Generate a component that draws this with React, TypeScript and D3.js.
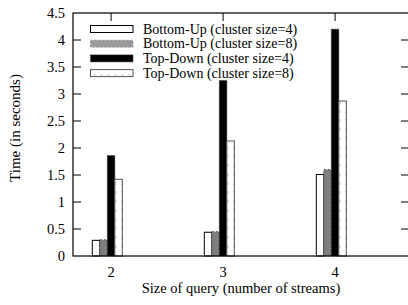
import React, { useEffect, useRef } from 'react';
import * as d3 from 'd3';

const categories = [2, 3, 4];
const seriesNames = [
  'Bottom-Up (cluster size=4)',
  'Bottom-Up (cluster size=8)',
  'Top-Down (cluster size=4)',
  'Top-Down (cluster size=8)',
];
const bottomUp4 = [0.29, 0.44, 1.51];
const bottomUp8 = [0.3, 0.45, 1.6];
const topDown4 = [1.86, 3.25, 4.2];
const topDown8 = [1.42, 2.13, 2.87];
const yTicks = [0, 0.5, 1, 1.5, 2, 2.5, 3, 3.5, 4, 4.5];

const App: React.FC = () => {
  const svgRef = useRef<SVGSVGElement>(null);

  useEffect(() => {
    if (!svgRef.current) return;
    const width = 408;
    const height = 305;
    const left = 73, right = 409, top = 13, bottom = 256;

    const svg = d3.select(svgRef.current);
    svg.selectAll('*').remove();
    svg.attr('width', width).attr('height', height);

    const defs = svg.append('defs');
    const pat = defs.append('pattern')
      .attr('id', 'xpat')
      .attr('patternUnits', 'userSpaceOnUse')
      .attr('width', 7).attr('height', 9);
    pat.append('rect').attr('width', 7).attr('height', 9).attr('fill', '#fff');
    pat.append('path')
      .attr('d', 'M2,2 L5,5 M5,2 L2,5')
      .attr('stroke', '#bbb').attr('stroke-width', 0.7);

    const x = d3.scaleLinear().domain([1.66, 4.66]).range([left, right]);
    const y = d3.scaleLinear().domain([0, 4.5]).range([bottom, top]);
    const bw = x(0.067) - x(0);

    const series = [
      { values: bottomUp4, fill: '#fff', stroke: '#000', dash: null, offset: -2 },
      { values: bottomUp8, fill: '#7f7f7f', stroke: '#555', dash: '2,2', offset: -1 },
      { values: topDown4, fill: '#000', stroke: '#333', dash: '1,1', offset: 0 },
      { values: topDown8, fill: 'url(#xpat)', stroke: '#555', dash: null, offset: 1 },
    ];

    // bars
    series.forEach((s) => {
      svg.append('g')
        .selectAll('rect')
        .data(categories.map((c, i) => ({ c, v: s.values[i] })))
        .enter()
        .append('rect')
        .attr('x', (d) => x(d.c) + (s.offset - 0.5) * bw)
        .attr('y', (d) => y(d.v))
        .attr('width', bw)
        .attr('height', (d) => y(0) - y(d.v))
        .attr('fill', s.fill)
        .attr('stroke', s.stroke)
        .attr('stroke-width', 1)
        .attr('stroke-dasharray', s.dash as any);
    });

    // border
    svg.append('rect')
      .attr('x', left).attr('y', top)
      .attr('width', right - left).attr('height', bottom - top)
      .attr('fill', 'none').attr('stroke', '#000').attr('stroke-width', 1.2);

    // y ticks
    const yt = svg.append('g');
    yTicks.forEach((t) => {
      if (t > 0 && t < 4.5) {
        yt.append('line').attr('x1', left).attr('x2', left + 8)
          .attr('y1', y(t)).attr('y2', y(t)).attr('stroke', '#000');
        yt.append('line').attr('x1', right - 8).attr('x2', right)
          .attr('y1', y(t)).attr('y2', y(t)).attr('stroke', '#000');
      }
      yt.append('text')
        .attr('x', left - 8).attr('y', y(t) + 5)
        .attr('text-anchor', 'end')
        .attr('font-size', 14.5)
        .text(String(t));
    });

    // x ticks
    const xt = svg.append('g');
    categories.forEach((c) => {
      xt.append('line').attr('x1', x(c)).attr('x2', x(c))
        .attr('y1', top).attr('y2', top + 8).attr('stroke', '#000');
      xt.append('line').attr('x1', x(c)).attr('x2', x(c))
        .attr('y1', bottom - 8).attr('y2', bottom).attr('stroke', '#000');
      xt.append('text')
        .attr('x', x(c)).attr('y', 277)
        .attr('text-anchor', 'middle')
        .attr('font-size', 14.5)
        .text(String(c));
    });

    // axis labels
    svg.append('text')
      .attr('x', 241).attr('y', 293)
      .attr('text-anchor', 'middle')
      .attr('font-size', 14.5)
      .text('Size of query (number of streams)');
    svg.append('text')
      .attr('transform', 'translate(20,128) rotate(-90)')
      .attr('text-anchor', 'middle')
      .attr('font-size', 15)
      .text('Time (in seconds)');

    // legend
    const lg = svg.append('g');
    series.forEach((s, i) => {
      const cy = 29 + i * 14.7;
      lg.append('rect')
        .attr('x', 90.5).attr('y', cy - 3.5)
        .attr('width', 42.5).attr('height', 7)
        .attr('fill', i === 1 ? '#999' : s.fill).attr('stroke', i === 1 ? '#999' : s.stroke)
        .attr('stroke-dasharray', s.dash as any);
      lg.append('text')
        .attr('x', 143).attr('y', cy + 4.5)
        .attr('font-size', 14)
        .text(seriesNames[i]);
    });
  }, []);

  return (
    <svg
      ref={svgRef}
      style={{ position: 'absolute', left: 0, top: 0, fontFamily: "'Liberation Serif', 'DejaVu Serif', serif" }}
    ></svg>
  );
};

export default App;
